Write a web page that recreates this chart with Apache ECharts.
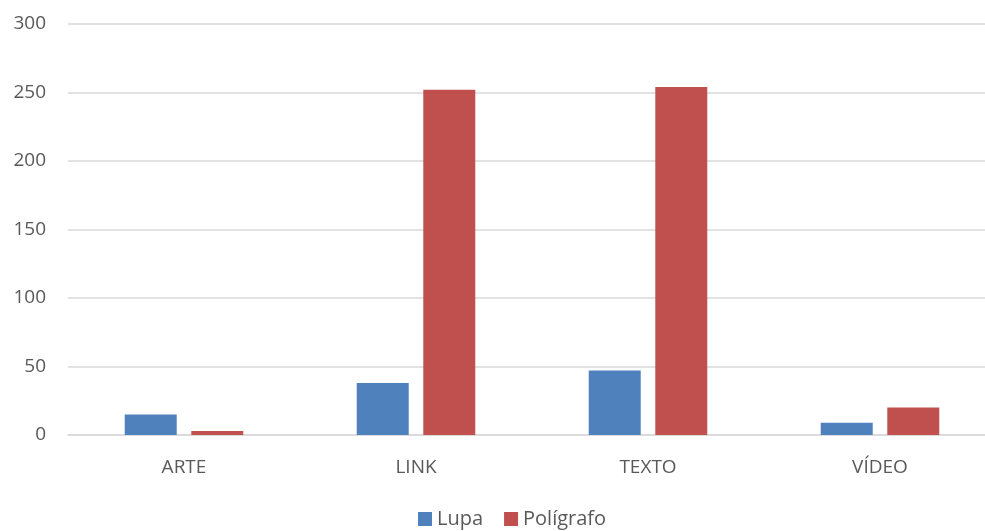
<!DOCTYPE html>
<html><head><meta charset="utf-8">
<script src="https://cdn.jsdelivr.net/npm/echarts@6/dist/echarts.min.js"></script>
<style>html,body{margin:0;padding:0;background:#fff}#c{width:985px;height:531px}</style>
</head><body><div id="c"></div>
<script>
const categories = ['ARTE', 'LINK', 'TEXTO', 'VÍDEO'];
const lupa = [15, 38, 47, 9];
const poligrafo = [3, 252, 254, 20];
const yTicks = { min: 0, max: 300, interval: 50 };

const chart = echarts.init(document.getElementById('c'));
const font = 'Open Sans';
chart.setOption({
  animation: false,
  textStyle: { fontFamily: font },
  grid: { left: 68, right: -11, top: 24, bottom: 96, containLabel: false, outerBoundsMode: 'none' },
  legend: {
    bottom: -3, left: 413,
    itemWidth: 14, itemHeight: 14, itemGap: 21,
    icon: 'rect',
    textStyle: { color: '#595959', fontSize: 20, fontFamily: font },
    data: ['Lupa', 'Polígrafo']
  },
  xAxis: {
    type: 'category', data: categories,
    axisLine: { lineStyle: { color: '#D9D9D9', width: 1.5 } },
    axisTick: { show: false },
    axisLabel: { color: '#595959', fontSize: 19, margin: 23, fontFamily: font }
  },
  yAxis: {
    type: 'value', min: yTicks.min, max: yTicks.max, interval: yTicks.interval,
    axisLine: { show: false }, axisTick: { show: false },
    splitLine: { lineStyle: { color: '#D9D9D9', width: 1.5 } },
    axisLabel: { color: '#595959', fontSize: 19, margin: 22, fontFamily: font }
  },
  series: [
    { name: 'Lupa', type: 'bar', data: lupa, barWidth: 52, barGap: '28%',
      itemStyle: { color: '#4F81BD' } },
    { name: 'Polígrafo', type: 'bar', data: poligrafo, barWidth: 52,
      itemStyle: { color: '#C0504D' } }
  ]
});
</script></body></html>
